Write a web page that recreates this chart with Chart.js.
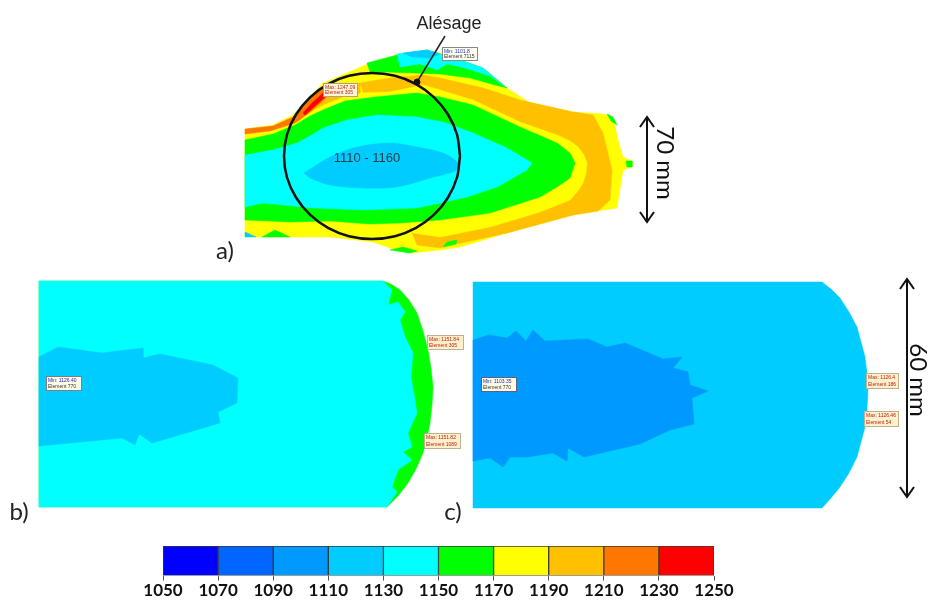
<!DOCTYPE html>
<html><head><meta charset="utf-8">
<style>
html,body{margin:0;padding:0;background:#fff;width:929px;height:601px;overflow:hidden}
canvas{position:absolute;display:block;filter:blur(0.5px)}
#map{left:0;top:0}
#bar{left:133px;top:535px}
</style>
<script src="https://cdn.jsdelivr.net/npm/chart.js@4"></script>
</head><body>
<canvas id="map" width="929" height="601"></canvas>
<canvas id="bar" width="620" height="66"></canvas>
<script>
// ---- colour scale
const scaleLimits = [1050,1070,1090,1110,1130,1150,1170,1190,1210,1230,1250];
const scaleColors = ['#0000ff','#0066ff','#0099ff','#00ccff','#00ffff','#00ff00','#ffff00','#ffc000','#ff7700','#ff0000'];

// ---- panel a) isotherm contours
const aOutline = [[245,129],[273,125],[293,115],[308,99],[323,83],[347,73],[370,63],[397,55],[427,50],[444,54],[460,60],[483,68],[507,88],[530,103],[573,112],[603,114],[613,117],[618,140],[623,157],[632,161],[632,167],[623,170],[617,208],[597,211],[573,215],[507,233],[460,247],[440,250],[410,253],[390,248],[373,242],[330,237],[245,237]];
const aTopGreen = [[367,63],[397,55],[427,50],[460,60],[483,68],[507,88],[495,85],[470,78],[440,74],[413,73],[385,72],[370,72]];
const aTopCyan = [[397,54],[427,50],[460,60],[483,68],[505,87],[490,76],[465,68],[447,64],[437,70],[420,64],[400,67]];
const aTopBlue = [[403,53],[427,50],[440,54],[430,58],[412,57]];
const aAmber = [[360,83],[390,78],[423,75],[440,78],[483,88],[520,100],[573,112],[593,115],[603,133],[612,170],[610,200],[598,211],[573,215],[507,233],[457,244],[440,248],[417,245],[413,235]];
const aAmberLeft = [[295,122],[310,106],[330,90],[345,85],[360,83],[360,93],[345,96],[325,104],[310,112],[297,122]];
const aOrange = [[245,129],[273,126],[293,117],[305,104],[318,90],[328,84],[326,98],[310,112],[295,123],[270,131],[245,134]];
const aRed = [[303,113],[312,103],[322,94],[327,88],[325,97],[315,106],[305,115]];
const aYellowInner = [[360,93],[390,92],[423,85],[440,90],[473,100],[520,122],[557,135],[570,141],[578,147],[584,155],[587,163],[586,173],[583,183],[577,192],[570,200],[540,212],[490,227],[440,237],[413,233]];
const aGreen = [[245,140],[273,134],[295,125],[310,116],[325,109],[345,101],[375,97],[417,93],[440,97],[473,105],[520,127],[557,143],[570,153],[575,163],[570,178],[557,187],[540,197],[490,213],[440,220],[400,223],[370,224],[330,221],[290,222],[245,220]];
const aCyan = [[245,155],[273,150],[297,143],[310,136],[323,128],[347,120],[377,115],[417,117],[443,122],[473,133],[507,148],[532,163],[527,170],[497,187],[467,197],[440,203],[417,208],[363,210],[313,208],[263,203],[245,207]];
const aCore = [[304,173],[330,157],[357,147],[390,143],[417,147],[443,153],[458,163],[457,170],[430,178],[397,187],[363,188],[330,185],[310,178]];
const aPatchGreen1 = [[390,250],[403,247],[417,251],[410,253]];
const aPatchGreen2 = [[443,247],[447,242],[457,240],[456,244]];
const aPatchGreen3 = [[607,114],[613,117],[617,125],[611,121]];
const aPatchGreen4 = [[626,161],[632,161],[632,167],[627,167]];
const aPatchGreen5 = [[262,237],[275,230],[290,237]];
const aPatchCyan = [[245,232],[256,237],[245,237]];
const boreCircle = [[460,156],[457,177.5],[448,197.5],[434,214.7],[416,227.9],[395,236.2],[372,239],[349,236.2],[328,227.9],[310,214.7],[296,197.5],[287,177.5],[284,156],[287,134.5],[296,114.5],[310,97.3],[328,84.1],[349,75.8],[372,73],[395,75.8],[416,84.1],[434,97.3],[448,114.5],[457,134.5],[460,156]];
const boreLeader = [[445,36],[417,82]];

// ---- panel b)
const bOutline = [[39,281],[383,281],[391,284],[400,290],[409,300],[417,313],[423,331],[428,350],[431,368],[433,387],[432,405],[430,423],[427,438],[423,453],[416,469],[408,483],[398,496],[387,507],[39,507]];
const bCyan = [[39,281],[383,281],[392,290],[388,305],[398,302],[405,312],[400,320],[405,337],[413,353],[411,377],[415,400],[417,413],[408,433],[412,447],[403,452],[412,460],[398,470],[392,487],[397,492],[387,507],[39,507]];
const bCore = [[39,357],[58,347],[102,353],[143,348],[143,358],[160,354],[213,365],[238,378],[237,403],[218,412],[220,423],[152,443],[139,434],[135,445],[122,438],[39,446]];

// ---- panel c)
const cOutline = [[473,282],[822,282],[831,289],[840,298],[849,312],[857,327],[861,342],[865,357],[867,373],[868,390],[867,409],[865,427],[861,442],[857,457],[849,473],[840,487],[831,498],[822,508],[473,508]];
const cCore = [[473,340],[489,335],[507,338],[516,331],[526,341],[533,330],[545,341],[588,339],[607,347],[625,343],[663,359],[682,357],[673,368],[688,372],[690,385],[708,391],[692,398],[694,424],[670,430],[640,444],[584,457],[568,448],[567,461],[553,453],[528,457],[510,457],[503,467],[490,458],[473,461]];

// ---- dimension arrows
const arrow70 = [[647,117],[647,222]];
const arrow70Top = [[640,127],[647,117],[654,127]];
const arrow70Bottom = [[640,212],[647,222],[654,212]];
const arrow60 = [[907,279],[907,497]];
const arrow60Top = [[900,289],[907,279],[914,289]];
const arrow60Bottom = [[900,487],[907,497],[914,487]];

// ---- annotations
const boxes = [
 {x:442,y:47,w:36,h:14,a:'Min: 1101.8',b:'Element 7115',c:'#2030c0',bg:'#fdfdf0',e:'#8a8a80'},
 {x:323,y:83,w:35,h:14,a:'Max: 1247.09',b:'Element 305',c:'#c02010',bg:'#fdf6d8',e:'#b0a080'},
 {x:46,y:376,w:36,h:15,a:'Min: 1126.40',b:'Element 770',c:'#2030c0',bg:'#fdfbe6',e:'#808080'},
 {x:427,y:335,w:37,h:15,a:'Max: 1151.84',b:'Element 305',c:'#c02010',bg:'#fdf0cc',e:'#c0b090'},
 {x:424,y:433,w:37,h:16,a:'Max: 1151.82',b:'Element 1089',c:'#c02010',bg:'#fdf0cc',e:'#c0b090'},
 {x:481,y:377,w:36,h:15,a:'Min: 1103.35',b:'Element 770',c:'#2030c0',bg:'#fdfbe6',e:'#606080'},
 {x:866,y:373,w:33,h:16,a:'Max: 1126.4',b:'Element 186',c:'#c02010',bg:'#fdf0cc',e:'#c0b090'},
 {x:864,y:411,w:35,h:16,a:'Max: 1126.46',b:'Element 54',c:'#c02010',bg:'#fdf0cc',e:'#c0b090'}
];
const labels = [
 {t:'Alésage',x:449,y:24,f:'18px "Liberation Sans"',c:'#222'},
 {t:'1110 - 1160',x:367,y:158,f:'13px "Liberation Sans"',c:'#2a3a4a'},
 {t:'a)',x:225,y:251,f:'24px Lato',c:'#222'},
 {t:'b)',x:19,y:512,f:'24px Lato',c:'#222'},
 {t:'c)',x:453,y:512,f:'24px Lato',c:'#222'},
 {t:'70 mm',x:665,y:163,f:'24px Lato',c:'#111',r:true},
 {t:'60 mm',x:918,y:380,f:'24px Lato',c:'#111',r:true}
];

const pts = a => a.map(p => ({x:p[0],y:p[1]}));
const shape = (a,color) => {const d=pts(a);d.push(d[0]);return {data:d,showLine:true,fill:'shape',backgroundColor:color,borderColor:color,borderWidth:0.5,pointRadius:0,tension:0};};
const soft = (a,color) => Object.assign(shape(a,color),{tension:0.3});
const stroke = (a,w,color,t) => ({data:pts(a),showLine:true,fill:false,borderColor:color,borderWidth:w,pointRadius:0,tension:t||0});
const [BLUE2,BLUE3,CORE,CYAN,GREEN,YELLOW,AMBER,ORANGE,RED] = scaleColors.slice(1);

const paintOrder = [
 shape(aOutline,YELLOW),
 shape(aTopGreen,GREEN),
 shape(aTopCyan,CYAN),
 shape(aTopBlue,CORE),
 shape(aAmber,AMBER),
 shape(aAmberLeft,AMBER),
 shape(aOrange,ORANGE),
 shape(aRed,RED),
 shape(aYellowInner,YELLOW),
 shape(aGreen,GREEN),
 shape(aCyan,CYAN),
 soft(aCore,CORE),
 shape(aPatchGreen1,GREEN),shape(aPatchGreen2,GREEN),shape(aPatchGreen3,GREEN),shape(aPatchGreen4,GREEN),shape(aPatchGreen5,GREEN),
 shape(aPatchCyan,CORE),
 stroke(boreCircle,2.5,'#111',0.3),
 stroke(boreLeader,1.5,'#222'),
 {data:pts([boreLeader[1]]),showLine:false,pointRadius:3,backgroundColor:'#111',borderColor:'#111'},
 shape(bOutline,GREEN),
 shape(bCyan,CYAN),
 shape(bCore,CORE),
 shape(cOutline,CORE),
 shape(cCore,BLUE3),
 stroke(arrow70,2,'#111'),stroke(arrow70Top,2,'#111'),stroke(arrow70Bottom,2,'#111'),
 stroke(arrow60,2,'#111'),stroke(arrow60Top,2,'#111'),stroke(arrow60Bottom,2,'#111')
];

const annotate = {
 id:'annotate',
 afterDatasetsDraw(chart){
  const c=chart.ctx, X=chart.scales.x, Y=chart.scales.y;
  c.save();
  boxes.forEach(b=>{
   const px=X.getPixelForValue(b.x), py=Y.getPixelForValue(b.y);
   c.fillStyle=b.bg;c.strokeStyle=b.e;c.lineWidth=1;
   c.fillRect(px,py,b.w,b.h);c.strokeRect(px+.5,py+.5,b.w-1,b.h-1);
   c.font='5px "Liberation Sans"';c.textAlign='left';c.textBaseline='middle';
   c.fillStyle=b.c;c.fillText(b.a,px+2,py+b.h*0.3);
   c.fillStyle=b.c==='#2030c0'?'#333':b.c;c.fillText(b.b,px+2,py+b.h*0.7);
  });
  labels.forEach(l=>{
   c.save();
   c.translate(X.getPixelForValue(l.x),Y.getPixelForValue(l.y));
   if(l.r)c.rotate(Math.PI/2);
   c.font=l.f;c.fillStyle=l.c;c.textAlign='center';c.textBaseline='middle';
   c.fillText(l.t,0,0);
   c.restore();
  });
  c.restore();
 }
};

new Chart(document.getElementById('map'),{
 type:'scatter',
 data:{datasets:paintOrder.slice().reverse()},
 options:{
  responsive:false,animation:false,devicePixelRatio:1,
  layout:{padding:0,autoPadding:false},
  plugins:{legend:{display:false},tooltip:{enabled:false}},
  scales:{
   x:{type:'linear',display:false,min:0,max:929},
   y:{type:'linear',display:false,min:0,max:601,reverse:true}
  }
 },
 plugins:[annotate]
});

new Chart(document.getElementById('bar'),{
 type:'bar',
 data:{
  labels:['Température'],
  datasets:scaleColors.map((col,i)=>({
   label:scaleLimits[i]+' - '+scaleLimits[i+1],
   data:[[scaleLimits[i],scaleLimits[i+1]]],
   backgroundColor:col,borderColor:'#3a3a3a',borderWidth:1,borderSkipped:false,
   barPercentage:1,categoryPercentage:1
  }))
 },
 options:{
  indexAxis:'y',responsive:false,animation:false,devicePixelRatio:1,
  layout:{padding:{left:30,right:39,top:11,bottom:0},autoPadding:false},
  plugins:{legend:{display:false},tooltip:{enabled:false}},
  scales:{
   y:{stacked:true,display:false},
   x:{type:'linear',min:1050,max:1250,
    afterBuildTicks(ax){ax.ticks=scaleLimits.map(v=>({value:v}));},
    grid:{drawOnChartArea:false,drawTicks:true,tickLength:5,color:'#555'},
    border:{display:false},
    ticks:{autoSkip:false,maxRotation:0,padding:0,color:'#111',callback:v=>String(v),font:{family:'Lato',size:17,weight:'bold'}}
   }
  }
 }
});
</script>
</body></html>
